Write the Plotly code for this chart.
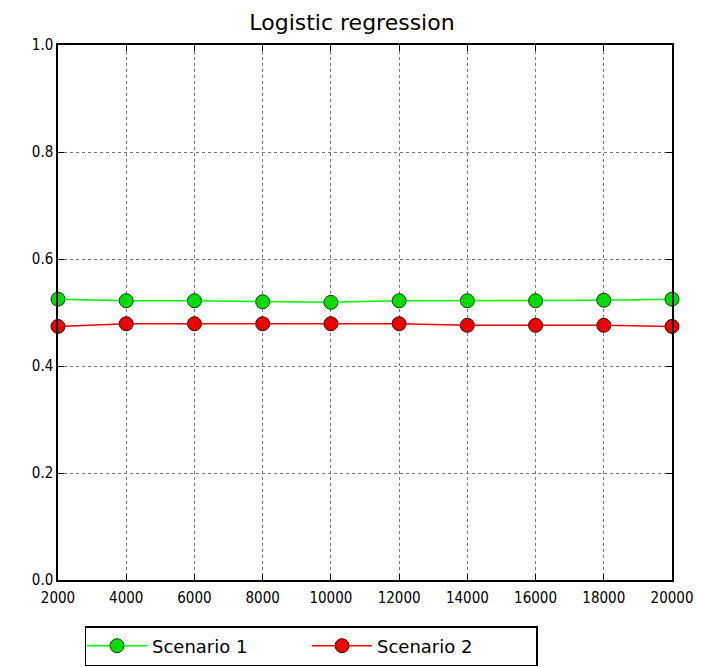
import plotly.graph_objects as go

x_vals = [2000, 4000, 6000, 8000, 10000, 12000, 14000, 16000, 18000, 20000]
scenario1 = [0.525, 0.522, 0.522, 0.520, 0.519, 0.522, 0.522, 0.522, 0.523, 0.525]
scenario2 = [0.474, 0.479, 0.479, 0.479, 0.479, 0.479, 0.476, 0.476, 0.476, 0.474]
x_ticks = [2000, 4000, 6000, 8000, 10000, 12000, 14000, 16000, 18000, 20000]
y_ticks = [0.0, 0.2, 0.4, 0.6, 0.8, 1.0]

fig = go.Figure()
fig.add_trace(go.Scatter(
    x=x_vals, y=scenario1, name="Scenario 1", mode="lines+markers",
    line=dict(color="#00ff00", width=1.5),
    marker=dict(size=14, color="#00dd00", line=dict(color="#004400", width=1)),
    cliponaxis=False,
))
fig.add_trace(go.Scatter(
    x=x_vals, y=scenario2, name="Scenario 2", mode="lines+markers",
    line=dict(color="#ff0000", width=1.5),
    marker=dict(size=14, color="#ee0000", line=dict(color="#440000", width=1)),
    cliponaxis=False,
))

axis_common = dict(
    showline=True, linecolor="black", linewidth=1.5, mirror="ticks",
    ticks="inside", ticklen=6, tickcolor="black",
    showgrid=True, gridcolor="#777777", griddash="dot", gridwidth=1,
    zeroline=False, automargin=False,
    tickfont=dict(family="DejaVu Sans Condensed, DejaVu Sans", size=15, color="black"),
)

fig.update_layout(
    width=704, height=667,
    margin=dict(l=58, r=32, t=45, b=87, autoexpand=False),
    paper_bgcolor="white", plot_bgcolor="white",
    title=dict(text="Logistic regression", x=0.5, xanchor="center",
               y=1 - 22 / 667, yanchor="middle",
               font=dict(family="DejaVu Sans", size=22, color="black")),
    xaxis=dict(range=[2000, 20000], tickvals=x_ticks,
               ticktext=[str(v) for v in x_ticks], ticklabelstandoff=3, **axis_common),
    yaxis=dict(range=[0, 1], tickvals=y_ticks,
               ticktext=[f"{v:.1f}" for v in y_ticks], **axis_common),
    legend=dict(orientation="h", xref="container", x=311 / 704, xanchor="center",
                yref="container", y=1 - 626 / 667, yanchor="top",
                bordercolor="black", borderwidth=1.5, bgcolor="white",
                font=dict(family="DejaVu Sans", size=18, color="black"),
                itemwidth=60, entrywidth=154, entrywidthmode="pixels", indentation=-4),
    showlegend=True,
)

fig.write_html("out.html")
